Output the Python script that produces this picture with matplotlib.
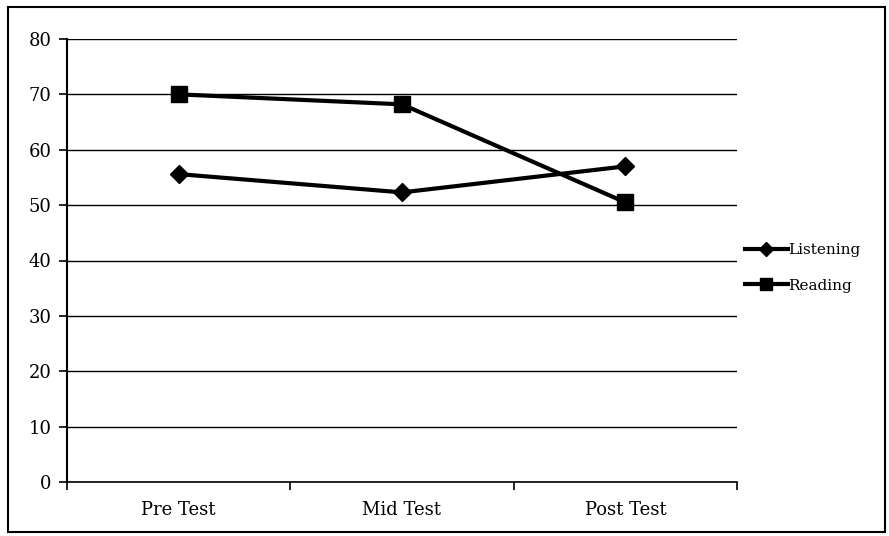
import matplotlib.pyplot as plt
from matplotlib.patches import Rectangle

# Data
tests = ["Pre Test", "Mid Test", "Post Test"]
listening = [55.6, 52.3, 57.0]
reading = [70.0, 68.2, 50.5]

plt.rcParams["font.family"] = ["DejaVu Serif"]

fig = plt.figure(figsize=(8.89, 5.36), dpi=100)
ax = fig.add_axes([67 / 889, 1 - 482 / 536, 670 / 889, 443 / 536])

x = [i + 0.5 for i in range(len(tests))]
ax.plot(x, listening, color="black", lw=3, marker="D", markersize=9,
        label="Listening")
ax.plot(x, reading, color="black", lw=3, marker="s", markersize=11,
        label="Reading")

ax.set_xlim(0, len(tests))
ax.set_ylim(0, 80)
ax.set_yticks(range(0, 81, 10))
ax.set_xticks(range(len(tests) + 1))
ax.set_xticklabels([])
ax.set_xticks(x, minor=True)
ax.set_xticklabels(tests, minor=True)
ax.tick_params(axis="x", which="minor", length=0, pad=14, labelsize=13)
ax.tick_params(axis="x", which="major", direction="out", length=6, width=1.2)
ax.tick_params(axis="y", direction="out", length=6, width=1.2, labelsize=13, pad=5)
ax.yaxis.grid(True, color="black", lw=1)
ax.set_axisbelow(True)

for side in ["top", "right"]:
    ax.spines[side].set_visible(False)
ax.spines["left"].set_linewidth(1.5)
ax.spines["bottom"].set_linewidth(1.2)

ax.legend(loc="center left", bbox_to_anchor=(745 / 889, 1 - 268 / 536),
          bbox_transform=fig.transFigure, frameon=False, fontsize=11,
          handlelength=2.8, handletextpad=0.0, labelspacing=1.4,
          markerscale=0.75, borderaxespad=0, borderpad=0)

# outer frame
fig.patches.append(Rectangle((8 / 889, 4 / 536), 877 / 889, 525 / 536,
                             transform=fig.transFigure, fill=False,
                             edgecolor="black", lw=1.5))

fig.savefig("out.png", dpi=100)
